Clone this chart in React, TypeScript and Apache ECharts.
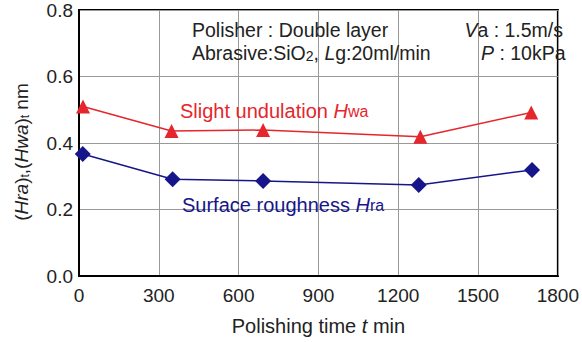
import React, { useEffect, useRef } from "react";
import * as echarts from "echarts";

const timeHwa = [15, 348, 692, 1283, 1700];
const valHwa = [0.51, 0.436, 0.439, 0.419, 0.492];
const timeHra = [14, 352, 692, 1277, 1703];
const valHra = [0.367, 0.291, 0.286, 0.274, 0.319];
const xTicks = [0, 300, 600, 900, 1200, 1500, 1800];
const yTicks = [0, 0.2, 0.4, 0.6, 0.8];

const RED = "#e5262c";
const BLUE = "#16168a";
const FONT = "Liberation Sans, Arial, sans-serif";

export default function App() {
  const ref = useRef<HTMLDivElement>(null);
  useEffect(() => {
    const chart = echarts.init(ref.current!, null, { renderer: "svg" });
    chart.setOption({
      animation: false,
      textStyle: { fontFamily: FONT },
      grid: {
        left: 79,
        right: 9,
        top: 10,
        bottom: 66,
        show: true,
        borderColor: "#000",
        borderWidth: 2,
      },
      xAxis: {
        type: "value",
        min: xTicks[0],
        max: xTicks[xTicks.length - 1],
        interval: 300,
        axisLine: { show: true, lineStyle: { color: "#000", width: 2 } },
        axisTick: { show: false },
        axisLabel: { fontSize: 19, color: "#222", margin: 10, formatter: (v: number) => String(v) },
        splitLine: { show: true, lineStyle: { color: "#999", width: 1 } },
        name: "Polishing time {i|t} min",
        nameLocation: "middle",
        nameGap: 40,
        nameTextStyle: {
          fontSize: 20,
          color: "#222",
          rich: { i: { fontStyle: "italic", fontSize: 20, color: "#222" } },
        },
      },
      yAxis: {
        type: "value",
        min: yTicks[0],
        max: yTicks[yTicks.length - 1],
        interval: 0.2,
        axisLine: { show: true, lineStyle: { color: "#000", width: 2 } },
        axisTick: { show: false },
        axisLabel: {
          fontSize: 19,
          color: "#222",
          margin: 6,
          formatter: (v: number) => v.toFixed(1),
        },
        splitLine: { show: true, lineStyle: { color: "#999", width: 1 } },
        name: "({i|Hra}){s|t},({i|Hwa}){s|t} nm",
        nameLocation: "middle",
        nameGap: 48,
        nameRotate: 90,
        nameTextStyle: {
          fontSize: 19,
          color: "#222",
          padding: [0, 18, 0, 0],
          rich: {
            i: { fontStyle: "italic", fontSize: 19, color: "#222" },
            s: { fontSize: 12, color: "#222", verticalAlign: "bottom", lineHeight: 14 },
          },
        },
      },
      series: [
        {
          type: "line",
          data: timeHwa.map((t, i) => [t, valHwa[i]]),
          symbol: "triangle",
          symbolSize: 14,
          lineStyle: { color: RED, width: 1.5 },
          itemStyle: { color: RED },
        },
        {
          type: "line",
          data: timeHra.map((t, i) => [t, valHra[i]]),
          symbol: "diamond",
          symbolSize: 16,
          lineStyle: { color: BLUE, width: 1.5 },
          itemStyle: { color: BLUE },
        },
      ],
      graphic: [
        {
          type: "text",
          x: 192,
          y: 30,
          z: 11,
          style: {
            text: "Polisher : Double layer",
            font: `19.5px ${FONT}`,
            fill: "#222",
            verticalAlign: "middle",
          },
        },
        {
          type: "text",
          x: 192,
          y: 53,
          z: 11,
          style: {
            text: "Abrasive:SiO{s|2}, {i|L}g:20ml/min",
            font: `19.5px ${FONT}`,
            fill: "#222",
            verticalAlign: "middle",
            rich: {
              s: { fontSize: 14, fill: "#222", verticalAlign: "bottom" },
              i: { fontStyle: "italic", fontSize: 19.5, fill: "#222" },
            },
          },
        },
        {
          type: "text",
          x: 563,
          y: 30,
          z: 11,
          style: {
            text: "{i|V}a : 1.5m/s",
            font: `19.5px ${FONT}`,
            fill: "#222",
            align: "right",
            verticalAlign: "middle",
            rich: { i: { fontStyle: "italic", fontSize: 19.5, fill: "#222" } },
          },
        },
        {
          type: "text",
          x: 481,
          y: 53,
          z: 11,
          style: {
            text: "{i|P} : 10kPa",
            font: `19.5px ${FONT}`,
            fill: "#222",
            verticalAlign: "middle",
            rich: { i: { fontStyle: "italic", fontSize: 19.5, fill: "#222" } },
          },
        },
        {
          type: "text",
          x: 180,
          y: 111,
          z: 11,
          style: {
            text: "Slight undulation {i|H}{s|wa}",
            font: `20px ${FONT}`,
            fill: RED,
            verticalAlign: "middle",
            rich: {
              i: { fontStyle: "italic", fontSize: 20, fill: RED },
              s: { fontSize: 16, fill: RED },
            },
          },
        },
        {
          type: "text",
          x: 182,
          y: 205,
          z: 11,
          style: {
            text: "Surface roughness {i|H}{s|ra}",
            font: `20px ${FONT}`,
            fill: BLUE,
            verticalAlign: "middle",
            rich: {
              i: { fontStyle: "italic", fontSize: 20, fill: BLUE },
              s: { fontSize: 16, fill: BLUE },
            },
          },
        },
      ],
    });
    return () => chart.dispose();
  }, []);
  return <div ref={ref} style={{ width: 582, height: 342, position: "absolute", left: 0, top: 0 }} />;
}
